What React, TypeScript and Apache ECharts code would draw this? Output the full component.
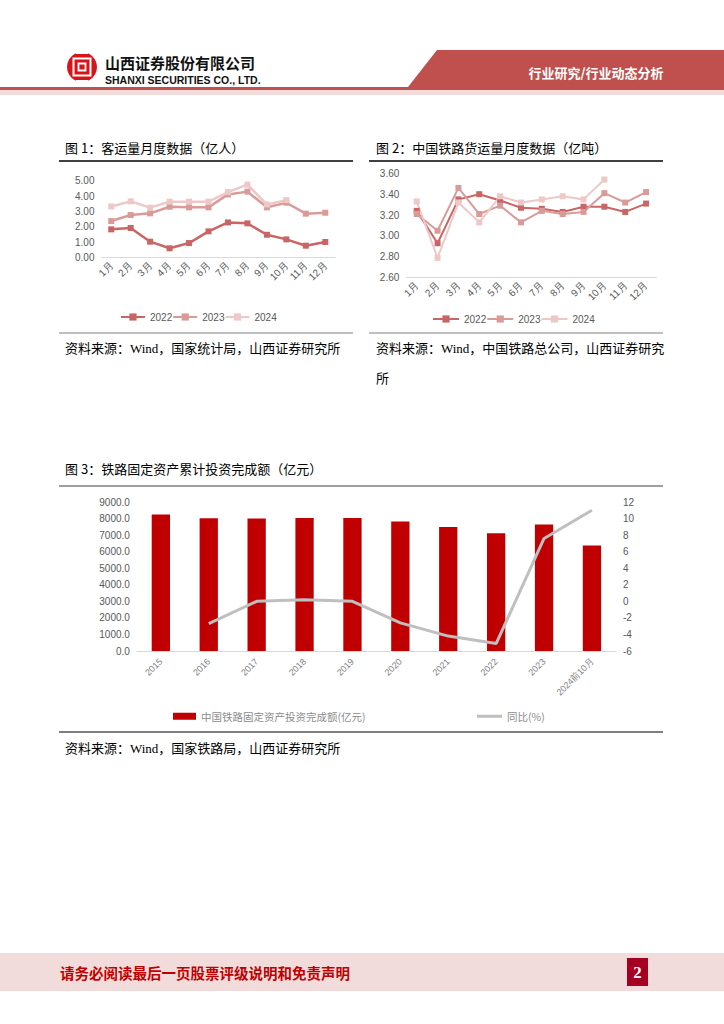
import React, { useEffect, useRef } from "react";
import * as echarts from "echarts";

const months = ["1月", "2月", "3月", "4月", "5月", "6月", "7月", "8月", "9月", "10月", "11月", "12月"];
const seriesNames = ["2022", "2023", "2024"];
const passenger2022 = [1.84, 1.93, 1.04, 0.61, 0.95, 1.71, 2.29, 2.23, 1.49, 1.19, 0.78, 1.02];
const passenger2023 = [2.38, 2.77, 2.88, 3.31, 3.27, 3.27, 4.11, 4.29, 3.27, 3.57, 2.86, 2.92];
const passenger2024 = [3.33, 3.66, 3.25, 3.64, 3.64, 3.64, 4.26, 4.74, 3.46, 3.74];
const freight2022 = [3.24, 2.93, 3.35, 3.4, 3.34, 3.27, 3.26, 3.23, 3.28, 3.28, 3.23, 3.31];
const freight2023 = [3.21, 3.05, 3.46, 3.21, 3.29, 3.13, 3.24, 3.21, 3.23, 3.41, 3.32, 3.42];
const freight2024 = [3.33, 2.79, 3.32, 3.13, 3.38, 3.32, 3.35, 3.38, 3.35, 3.54];
const years = ["2015", "2016", "2017", "2018", "2019", "2020", "2021", "2022", "2023", "2024前10月"];
const investment = [8238, 8015, 8010, 8028, 8029, 7819, 7489, 7109, 7645, 6373];
const yoy = [null, -2.7, 0.0, 0.2, 0.0, -2.6, -4.2, -5.1, 7.6, 11.0];
const barName = "中国铁路固定资产投资完成额(亿元)";
const lineName = "同比(%)";

const C22 = "#c96565";
const C23 = "#d99b99";
const C24 = "#edc8c7";
const LBL = "#595959";
const NUMFONT = "Liberation Sans";
const CJK = "Noto Sans CJK SC";
const SRC = "'Liberation Serif', 'Noto Sans CJK SC'";

function lineSeries(name: string, data: number[], x: number, y: number, w: number) {
  const color = name === "2022" ? C22 : name === "2023" ? C23 : C24;
  return {
    type: "line",
    name,
    data,
    xAxisIndex: x,
    yAxisIndex: y,
    symbol: "rect",
    symbolSize: 6,
    itemStyle: { color },
    lineStyle: { color, width: w },
    z: 3,
  };
}

function text(t: string, x: number, y: number, font: string, fill = "#000", align = "left") {
  return {
    type: "text",
    x,
    y,
    style: { text: t, font, fill, textAlign: align, textVerticalAlign: "middle" },
  };
}

function rule(x1: number, y1: number, x2: number, y2: number, stroke: string, lw: number) {
  return { type: "line", shape: { x1, y1, x2, y2 }, style: { stroke, lineWidth: lw } };
}

export default function App() {
  const ref = useRef<HTMLDivElement>(null);
  useEffect(() => {
    if (!ref.current) return;
    const chart = echarts.init(ref.current, null, { renderer: "svg" });
    const catAxis = (grid: number, data: string[], fs: number, color: string, margin: number) => ({
      type: "category",
      gridIndex: grid,
      data,
      boundaryGap: true,
      axisLine: { show: true, lineStyle: { color: "#d9d9d9", width: 1 } },
      axisTick: { show: false },
      splitLine: { show: false },
      axisLabel: { rotate: 45, interval: 0, fontSize: fs, color, fontFamily: NUMFONT, margin },
    });
    const valAxis = (grid: number, min: number, max: number, interval: number, dec: number, extra: any = {}) => ({
      type: "value",
      gridIndex: grid,
      min,
      max,
      interval,
      axisLine: { show: false },
      axisTick: { show: false },
      splitLine: { show: false },
      axisLabel: {
        fontSize: 10,
        color: LBL,
        fontFamily: NUMFONT,
        margin: 7,
        formatter: (v: number) => v.toFixed(dec),
      },
      ...extra,
    });
    const option: any = {
      animation: false,
      backgroundColor: "#fff",
      grid: [
        { left: 101.5, top: 180.7, width: 233.5, height: 77 },
        { left: 406.3, top: 173.3, width: 250.2, height: 104.4 },
        { left: 136.9, top: 502, width: 479, height: 149 },
      ],
      xAxis: [
        catAxis(0, months, 10, LBL, 6),
        catAxis(1, months, 10, LBL, 6),
        catAxis(2, years, 9, "#7f7f7f", 9),
      ],
      yAxis: [
        valAxis(0, 0, 5, 1, 2),
        valAxis(1, 2.6, 3.6, 0.2, 2),
        valAxis(2, 0, 9000, 1000, 1),
        valAxis(2, -6, 12, 2, 0, {
          position: "right",
          axisLabel: {
            fontSize: 10,
            color: LBL,
            fontFamily: NUMFONT,
            margin: 7,
            formatter: (v: number) => String(Math.round(v)),
          },
        }),
      ],
      legend: [
        {
          data: seriesNames,
          left: 115,
          top: 307,
          itemWidth: 24,
          itemHeight: 9,
          itemGap: 0,
          textStyle: { fontSize: 10, color: LBL, fontFamily: NUMFONT },
        },
        {
          data: seriesNames,
          left: 427,
          top: 309,
          itemWidth: 26,
          itemHeight: 9,
          itemGap: 0,
          textStyle: { fontSize: 10, color: LBL, fontFamily: NUMFONT },
        },
        {
          data: [{ name: barName, icon: "rect" }],
          left: 168,
          top: 706,
          itemWidth: 23,
          itemHeight: 7,
          textStyle: { fontSize: 10.5, color: "#8c8c8c", fontFamily: CJK },
        },
        {
          data: [{ name: lineName, icon: "rect", itemStyle: { color: "#bfbfbf" } }],
          left: 472,
          top: 706,
          itemWidth: 25,
          itemHeight: 3,
          textStyle: { fontSize: 10.5, color: "#8c8c8c", fontFamily: CJK },
        },
      ],
      series: [
        lineSeries("2022", passenger2022, 0, 0, 2.5),
        lineSeries("2023", passenger2023, 0, 0, 2.5),
        lineSeries("2024", passenger2024, 0, 0, 2.5),
        lineSeries("2022", freight2022, 1, 1, 2),
        lineSeries("2023", freight2023, 1, 1, 2),
        lineSeries("2024", freight2024, 1, 1, 2),
        {
          type: "bar",
          name: barName,
          data: investment,
          xAxisIndex: 2,
          yAxisIndex: 2,
          barWidth: 18.3,
          itemStyle: { color: "#c00000" },
        },
        {
          type: "line",
          name: lineName,
          data: yoy,
          xAxisIndex: 2,
          yAxisIndex: 3,
          symbol: "none",
          connectNulls: false,
          lineStyle: { color: "#bfbfbf", width: 3 },
          itemStyle: { color: "#bfbfbf" },
          z: 4,
        },
      ],
      graphic: {
        elements: [
          // header
          { type: "polygon", shape: { points: [[437, 50], [724, 50], [724, 87], [408, 87]] }, style: { fill: "#c0504d" } },
          { type: "rect", shape: { x: 0, y: 87, width: 724, height: 3 }, style: { fill: "#c0504d" } },
          { type: "rect", shape: { x: 0, y: 90, width: 724, height: 5 }, style: { fill: "#f2dcdb" } },
          text("行业研究/行业动态分析", 596, 72, `bold 13px ${CJK}`, "#fff", "center"),
          { type: "circle", shape: { cx: 82, cy: 67, r: 15 }, style: { fill: "#d7141a" } },
          { type: "rect", shape: { x: 73.5, y: 58.5, width: 17, height: 17 }, style: { fill: "none", stroke: "#fff", lineWidth: 2 } },
          { type: "rect", shape: { x: 78.5, y: 63.5, width: 7, height: 7 }, style: { fill: "none", stroke: "#fff", lineWidth: 1.8 } },
          { type: "rect", shape: { x: 76, y: 52, width: 12, height: 2 }, style: { fill: "#fff" } },
          { type: "rect", shape: { x: 76, y: 80, width: 12, height: 2 }, style: { fill: "#fff" } },
          text("山西证券股份有限公司", 105, 62, `bold 15px ${CJK}`, "#111"),
          text("SHANXI SECURITIES CO., LTD.", 105, 79.5, `bold 10.5px ${NUMFONT}`, "#111"),
          // titles
          text("图 1：客运量月度数据（亿人）", 65, 147, `13px ${CJK}`, "#000"),
          text("图 2：中国铁路货运量月度数据（亿吨）", 376, 147, `13px ${CJK}`, "#000"),
          text("图 3：铁路固定资产累计投资完成额（亿元）", 65, 468, `13px ${CJK}`, "#000"),
          // rules
          rule(59, 161, 353, 161, "#000", 1.5),
          rule(369, 161, 663, 161, "#000", 1.5),
          rule(59, 333, 353, 333, "#808080", 1.2),
          rule(369, 333, 663, 333, "#808080", 1.2),
          rule(59, 486, 663, 486, "#404040", 1.2),
          rule(59, 732, 663, 732, "#000", 1.2),
          // sources
          text("资料来源：Wind，国家统计局，山西证券研究所", 65, 348, `13px ${SRC}`, "#000"),
          text("资料来源：Wind，中国铁路总公司，山西证券研究", 376, 348, `13px ${SRC}`, "#000"),
          text("所", 376, 378, `13px ${SRC}`, "#000"),
          text("资料来源：Wind，国家铁路局，山西证券研究所", 65, 748, `13px ${SRC}`, "#000"),
          // footer
          { type: "rect", shape: { x: 0, y: 953, width: 724, height: 38 }, style: { fill: "#f2dcdb" } },
          text("请务必阅读最后一页股票评级说明和免责声明", 60, 972, `bold 14.5px ${CJK}`, "#c00000"),
          { type: "rect", shape: { x: 627, y: 958, width: 21, height: 28 }, style: { fill: "#a50021" } },
          text("2", 637.5, 972, `bold 17px 'Liberation Serif'`, "#fff", "center"),
        ],
      },
    };
    chart.setOption(option);
    return () => chart.dispose();
  }, []);
  return (
    <div
      ref={ref}
      style={{ position: "absolute", left: 0, top: 0, width: 724, height: 1024, background: "#fff" }}
    />
  );
}
